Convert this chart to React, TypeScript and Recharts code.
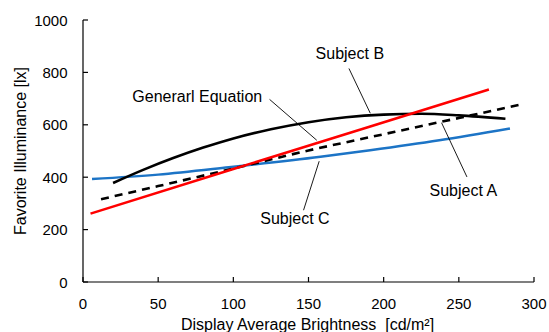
import { LineChart, Line, XAxis, YAxis, ReferenceLine, ReferenceDot } from 'recharts'

// Favorite illuminance vs display brightness — per-subject fits

const FONT = "'Liberation Sans', Arial, sans-serif"

const xTicks = [0, 50, 100, 150, 200, 250, 300]
const yTicks = [0, 200, 400, 600, 800, 1000]

// Subject B (solid black curve)
const subjectBX = [20, 40, 60, 80, 100, 125, 150, 175, 200, 225, 250, 281]
const subjectBY = [378, 428, 473, 513, 548, 583, 610, 629, 639, 642, 636, 623]

// General equation (red)
const generalX = [5, 100, 190, 270]
const generalY = [261, 431, 592, 735]

// Subject A (dashed black)
const subjectAX = [12, 50, 100, 150, 200, 250, 290]
const subjectAY = [316, 366, 433, 502, 564, 626, 676]

// Subject C (blue)
const subjectCX = [6, 50, 97, 158, 191, 237, 284]
const subjectCY = [393, 410, 438, 478, 503, 541, 586]

// callout labels: text, text position, leader start, leader end
const calloutText = ['Subject B', 'Generarl Equation', 'Subject A', 'Subject C']
const calloutPos = [[177.5, 873], [76, 707], [253, 348], [141, 242]]
const leaderFrom = [[176.9, 815], [124.1, 697], [255.4, 401], [146.7, 274]]
const leaderTo = [[191.1, 644], [155.5, 541], [238.5, 608], [157.1, 461]]

const toRows = (xs: number[], ys: number[]) => xs.map((x, i) => ({ x, y: ys[i] }))

const XTick = (props: any) => {
  const { x, y, payload } = props
  return (
    <g>
      <line x1={x} y1={y} x2={x} y2={y - 5} stroke="#000" strokeWidth={1.2} />
      <text x={x} y={y + 21} textAnchor="middle" dominantBaseline="central" fontSize={15} fontFamily={FONT} fill="#000">
        {payload.value}
      </text>
    </g>
  )
}

const YTick = (props: any) => {
  const { x, y, payload } = props
  return (
    <g>
      <line x1={x} y1={y} x2={x + 5} y2={y} stroke="#000" strokeWidth={1.2} />
      <text x={x - 15.5} y={y} textAnchor="end" dominantBaseline="central" fontSize={15} fontFamily={FONT} fill="#000">
        {payload.value}
      </text>
    </g>
  )
}

export default function App() {
  return (
    <div style={{ position: 'absolute', left: 0, top: 0, background: '#fff' }}>
      <LineChart width={549} height={332} margin={{ top: 20, right: 15, bottom: 0, left: 0 }}>
        <XAxis
          type="number"
          dataKey="x"
          domain={[0, 300]}
          ticks={xTicks}
          interval={0}
          height={50}
          tickSize={0}
          tickMargin={0}
          tickLine={false}
          axisLine={{ stroke: '#000', strokeWidth: 1.2 }}
          tick={<XTick />}
          label={{
            content: ({ viewBox }: any) => (
              <text
                x={viewBox.x + viewBox.width / 2 - 1}
                y={viewBox.y + 42}
                textAnchor="middle"
                dominantBaseline="central"
                fontSize={16}
                fontFamily={FONT}
                fill="#000"
                style={{ whiteSpace: 'pre' }}
              >
                {'Display Average Brightness  [cd/m²]'}
              </text>
            ),
          }}
        />
        <YAxis
          type="number"
          dataKey="y"
          domain={[0, 1000]}
          ticks={yTicks}
          interval={0}
          width={83}
          tickSize={0}
          tickMargin={0}
          tickLine={false}
          axisLine={{ stroke: '#000', strokeWidth: 1.2 }}
          tick={<YTick />}
          label={{
            content: ({ viewBox }: any) => {
              const cx = viewBox.x + 20
              const cy = viewBox.y + viewBox.height / 2
              return (
                <text
                  x={cx}
                  y={cy}
                  transform={`rotate(-90 ${cx} ${cy})`}
                  textAnchor="middle"
                  dominantBaseline="central"
                  fontSize={16}
                  fontFamily={FONT}
                  fill="#000"
                >
                  Favorite Illuminance [lx]
                </text>
              )
            },
          }}
        />

        <Line data={toRows(subjectCX, subjectCY)} dataKey="y" name="Subject C" type="monotone" stroke="#1c74c6" strokeWidth={2.4} dot={false} isAnimationActive={false} />
        <Line data={toRows(subjectAX, subjectAY)} dataKey="y" name="Subject A" type="monotone" stroke="#000" strokeWidth={2.6} strokeDasharray="8 6" dot={false} isAnimationActive={false} />
        <Line data={toRows(subjectBX, subjectBY)} dataKey="y" name="Subject B" type="monotone" stroke="#000" strokeWidth={2.6} dot={false} isAnimationActive={false} />
        <Line data={toRows(generalX, generalY)} dataKey="y" name="General Equation" type="linear" stroke="#ff0000" strokeWidth={2.6} dot={false} isAnimationActive={false} />

        {calloutText.map((t, i) => (
          <ReferenceLine
            key={'l' + i}
            segment={[
              { x: leaderFrom[i][0], y: leaderFrom[i][1] },
              { x: leaderTo[i][0], y: leaderTo[i][1] },
            ]}
            stroke="#000"
            strokeWidth={0.9}
            ifOverflow="visible"
          />
        ))}
        {calloutText.map((t, i) => (
          <ReferenceDot
            key={'t' + i}
            x={calloutPos[i][0]}
            y={calloutPos[i][1]}
            r={1}
            ifOverflow="visible"
            shape={(p: any) => (
              <text x={p.cx} y={p.cy} textAnchor="middle" dominantBaseline="central" fontSize={16} fontFamily={FONT} fill="#000">
                {t}
              </text>
            )}
          />
        ))}
      </LineChart>
    </div>
  )
}
